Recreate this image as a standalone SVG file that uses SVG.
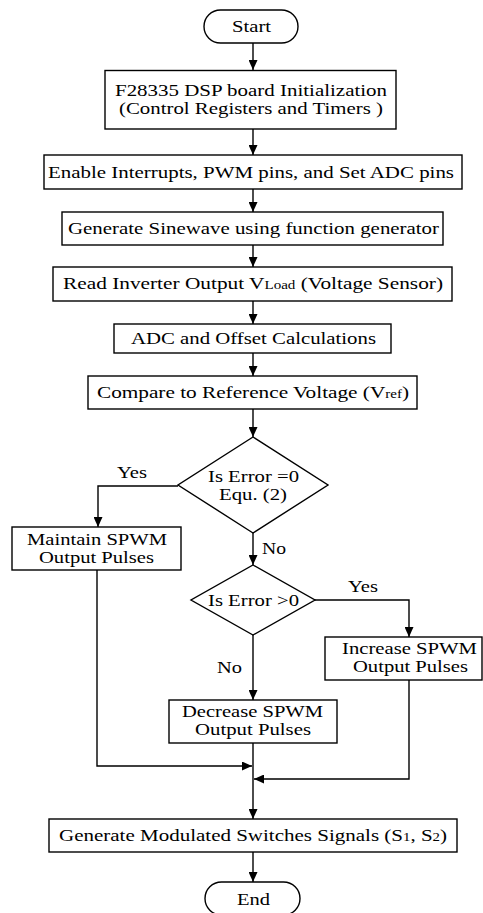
<svg xmlns="http://www.w3.org/2000/svg" width="483" height="913" viewBox="0 0 483 913">
  <style>
    .shape { fill: #ffffff; stroke: #000000; stroke-width: 1.4; }
    .link { fill: none; stroke: #000000; stroke-width: 1.4; }
    text { font-family: "Liberation Serif", "Times New Roman", "DejaVu Serif", serif; font-size: 17px; fill: #000000; text-anchor: middle; }
    .sub { font-size: 12px; }
    .lbl { text-anchor: start; }
  </style>
  <defs>
    <marker id="arrow" markerUnits="userSpaceOnUse" markerWidth="10" markerHeight="9" refX="10" refY="4.5" orient="auto">
      <path d="M0,0 L10,4.5 L0,9 Z" fill="#000000"/>
    </marker>
  </defs>
  <rect width="483" height="913" fill="#ffffff"/>

  <g id="connectors">
    <line class="link" x1="253" y1="43" x2="253" y2="70" marker-end="url(#arrow)"/>
    <line class="link" x1="253" y1="129" x2="253" y2="155" marker-end="url(#arrow)"/>
    <line class="link" x1="253" y1="189" x2="253" y2="212" marker-end="url(#arrow)"/>
    <line class="link" x1="253" y1="245" x2="253" y2="267" marker-end="url(#arrow)"/>
    <line class="link" x1="253" y1="301" x2="253" y2="324" marker-end="url(#arrow)"/>
    <line class="link" x1="253" y1="353" x2="253" y2="376" marker-end="url(#arrow)"/>
    <line class="link" x1="253" y1="409" x2="253" y2="437" marker-end="url(#arrow)"/>
    <polyline class="link" points="178,486 98,486 98,527" marker-end="url(#arrow)"/>
    <line class="link" x1="253" y1="533" x2="253" y2="565" marker-end="url(#arrow)"/>
    <polyline class="link" points="315,600 409,600 409,637" marker-end="url(#arrow)"/>
    <line class="link" x1="253" y1="635" x2="253" y2="700" marker-end="url(#arrow)"/>
    <line class="link" x1="253" y1="743" x2="253" y2="819" marker-end="url(#arrow)"/>
    <polyline class="link" points="97,570 97,766 252,766" marker-end="url(#arrow)"/>
    <polyline class="link" points="409,680 409,779 254,779" marker-end="url(#arrow)"/>
    <line class="link" x1="253" y1="852" x2="253" y2="882" marker-end="url(#arrow)"/>
    <text class="lbl" x="117" y="478" textLength="30" lengthAdjust="spacingAndGlyphs">Yes</text>
    <text class="lbl" x="262" y="554" textLength="24" lengthAdjust="spacingAndGlyphs">No</text>
    <text class="lbl" x="348" y="592" textLength="30" lengthAdjust="spacingAndGlyphs">Yes</text>
    <text class="lbl" x="217" y="673" textLength="25" lengthAdjust="spacingAndGlyphs">No</text>
  </g>

  <g id="start">
    <rect class="shape" x="204" y="10" width="94" height="33" rx="16.5"/>
    <text x="251.5" y="32" textLength="39" lengthAdjust="spacingAndGlyphs">Start</text>
  </g>

  <g id="init">
    <rect class="shape" x="105" y="70.5" width="291" height="58.5"/>
    <text x="251" y="95.5" textLength="272" lengthAdjust="spacingAndGlyphs">F28335 DSP board Initialization</text>
    <text x="251" y="113.5" textLength="264" lengthAdjust="spacingAndGlyphs">(Control Registers and Timers )</text>
  </g>

  <g id="enable">
    <rect class="shape" x="44" y="155" width="418" height="34"/>
    <text x="251" y="178" textLength="406" lengthAdjust="spacingAndGlyphs">Enable Interrupts, PWM pins, and Set ADC pins</text>
  </g>

  <g id="sinewave">
    <rect class="shape" x="62" y="212" width="381" height="33"/>
    <text x="253.5" y="234" textLength="371" lengthAdjust="spacingAndGlyphs">Generate Sinewave using function generator</text>
  </g>

  <g id="read">
    <rect class="shape" x="53" y="267" width="399" height="34"/>
    <text x="253" y="289" textLength="380" lengthAdjust="spacingAndGlyphs">Read Inverter Output V<tspan class="sub">Load</tspan> (Voltage Sensor)</text>
  </g>

  <g id="adc">
    <rect class="shape" x="114" y="324" width="277" height="29"/>
    <text x="253.5" y="344" textLength="245" lengthAdjust="spacingAndGlyphs">ADC and Offset Calculations</text>
  </g>

  <g id="compare">
    <rect class="shape" x="88" y="376" width="329" height="33"/>
    <text x="253" y="398" textLength="312" lengthAdjust="spacingAndGlyphs">Compare to Reference Voltage (V<tspan class="sub">ref</tspan>)</text>
  </g>

  <g id="decision-zero">
    <polygon class="shape" points="253,437 328,485 253,533 178,485"/>
    <text x="253.5" y="482" textLength="91" lengthAdjust="spacingAndGlyphs">Is Error =0</text>
    <text x="253" y="500" textLength="68" lengthAdjust="spacingAndGlyphs">Equ. (2)</text>
  </g>

  <g id="maintain">
    <rect class="shape" x="12" y="527" width="169" height="43"/>
    <text x="97" y="544.5" textLength="140" lengthAdjust="spacingAndGlyphs">Maintain SPWM</text>
    <text x="96.5" y="562.5" textLength="115" lengthAdjust="spacingAndGlyphs">Output Pulses</text>
  </g>

  <g id="decision-positive">
    <polygon class="shape" points="253,565 315,600 253,635 191,600"/>
    <text x="253.5" y="606" textLength="91" lengthAdjust="spacingAndGlyphs">Is Error &gt;0</text>
  </g>

  <g id="increase">
    <rect class="shape" x="325" y="637" width="157" height="43"/>
    <text x="409.5" y="654" textLength="135" lengthAdjust="spacingAndGlyphs">Increase SPWM</text>
    <text x="410.5" y="672" textLength="115" lengthAdjust="spacingAndGlyphs">Output Pulses</text>
  </g>

  <g id="decrease">
    <rect class="shape" x="169" y="700" width="168" height="43"/>
    <text x="252.5" y="717" textLength="141" lengthAdjust="spacingAndGlyphs">Decrease SPWM</text>
    <text x="253" y="735" textLength="116" lengthAdjust="spacingAndGlyphs">Output Pulses</text>
  </g>

  <g id="generate">
    <rect class="shape" x="49" y="819" width="408" height="33"/>
    <text x="253" y="841" textLength="388" lengthAdjust="spacingAndGlyphs">Generate Modulated Switches Signals (S<tspan class="sub">1</tspan>, S<tspan class="sub">2</tspan>)</text>
  </g>

  <g id="end">
    <rect class="shape" x="205" y="882" width="95" height="33" rx="16.5"/>
    <text x="253.5" y="905" textLength="33" lengthAdjust="spacingAndGlyphs">End</text>
  </g>
</svg>
